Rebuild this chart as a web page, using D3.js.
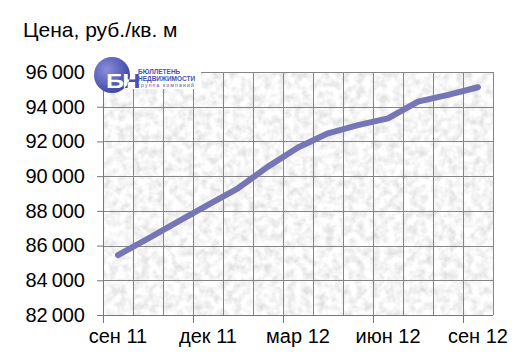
<!DOCTYPE html>
<html>
<head>
<meta charset="utf-8">
<script src="https://cdn.jsdelivr.net/npm/d3@7"></script>
<style>
  body { margin: 0; background: #fff; }
  text { font-family: "Liberation Sans", Arial, sans-serif; fill: #000; }
</style>
</head>
<body>
<div class="chart_price"></div>
<script>
// Monthly price per sq. m, Sep 2011 - Sep 2012
var months = ["сен 11", "окт 11", "ноя 11", "дек 11", "янв 12", "фев 12", "мар 12",
    "апр 12", "май 12", "июн 12", "июл 12", "авг 12", "сен 12"];
var prices = [85450, 86400, 87380, 88340, 89300, 90550, 91650, 92470, 92940, 93330, 94290, 94680, 95120];
var yTicks = [82000, 84000, 86000, 88000, 90000, 92000, 94000, 96000];
var xLabelMonths = ["сен 11", "дек 11", "мар 12", "июн 12", "сен 12"];

var svgWidth = 525;
var svgHeight = 363;
var margin = { top: 72, right: 32, bottom: 48, left: 103 };
var width = 390;
var height = 243;

var svg = d3
    .select(".chart_price")
    .append("svg")
    .attr("width", svgWidth)
    .attr("height", svgHeight);

// Marble-like texture for the plot background
var defs = svg.append("defs");
var filter = defs.append("filter")
    .attr("id", "marble")
    .attr("x", 0).attr("y", 0).attr("width", 1).attr("height", 1);
filter.append("feTurbulence")
    .attr("type", "fractalNoise")
    .attr("baseFrequency", "0.13")
    .attr("numOctaves", 3)
    .attr("seed", 7)
    .attr("result", "noise");
filter.append("feColorMatrix")
    .attr("in", "noise")
    .attr("type", "matrix")
    .attr("values", "0 0 0 0.5 0.67  0 0 0 0.5 0.67  0 0 0 0.5 0.67  0 0 0 0 1");

var chart = svg.append("g")
    .attr("transform", "translate(" + margin.left + "," + margin.top + ")");

// Scales
var xBand = d3.scaleBand().domain(months).range([0, width]);
var yLinearScale = d3.scaleLinear().domain([82000, 96000]).range([height, 0]);

chart.append("rect")
    .attr("width", width)
    .attr("height", height)
    .attr("filter", "url(#marble)");

// Gridlines
chart.append("g")
    .selectAll("line")
    .data(months.slice(1).concat(["end"]))
    .enter()
    .append("line")
    .attr("x1", function (d, i) { return (i + 1) * xBand.step() + 0.5; })
    .attr("x2", function (d, i) { return (i + 1) * xBand.step() + 0.5; })
    .attr("y1", 0)
    .attr("y2", height)
    .attr("stroke", "#858585")
    .attr("stroke-width", 1);

chart.append("g")
    .selectAll("line")
    .data(yTicks.slice(1))
    .enter()
    .append("line")
    .attr("x1", 0)
    .attr("x2", width)
    .attr("y1", function (d) { return Math.round(yLinearScale(d)) + 0.5; })
    .attr("y2", function (d) { return Math.round(yLinearScale(d)) + 0.5; })
    .attr("stroke", "#858585")
    .attr("stroke-width", 1);

// Left axis
var fmt = function (d) { return d3.format(",")(d).replace(",", "\u2009"); };
var leftAxis = d3.axisLeft(yLinearScale).tickValues(yTicks).tickSize(6).tickPadding(12).tickFormat(fmt);
var yAxis = chart.append("g").attr("class", "y-axis").call(leftAxis);
yAxis.select(".domain").attr("stroke", "#777");
yAxis.selectAll(".tick line").attr("stroke", "#777");
yAxis.selectAll(".tick text")
    .style("font-size", "20px")
    .style("font-family", "'Liberation Sans', Arial, sans-serif")
    .attr("fill", "#000");

// Bottom axis: ticks at quarter boundaries, labels at month centres
var bottom = chart.append("g").attr("transform", "translate(0," + height + ")");
bottom.append("line")
    .attr("x1", 0).attr("x2", width)
    .attr("y1", 0.5).attr("y2", 0.5)
    .attr("stroke", "#777");
bottom.selectAll(".xtick")
    .data(xLabelMonths)
    .enter()
    .append("line")
    .attr("class", "xtick")
    .attr("x1", function (d) { return Math.round(xBand(d)) + 0.5; })
    .attr("x2", function (d) { return Math.round(xBand(d)) + 0.5; })
    .attr("y1", 0)
    .attr("y2", 8)
    .attr("stroke", "#777");
bottom.selectAll(".xlabel")
    .data(xLabelMonths)
    .enter()
    .append("text")
    .attr("class", "xlabel")
    .attr("x", function (d) { return xBand(d) + xBand.bandwidth() / 2; })
    .attr("y", 28)
    .attr("text-anchor", "middle")
    .style("font-size", "20px")
    .text(function (d) { return d; });

// Price line
var line = d3.line()
    .x(function (d, i) { return xBand(months[i]) + xBand.bandwidth() / 2; })
    .y(function (d) { return yLinearScale(d); });

chart.append("path")
    .datum(prices)
    .attr("d", line)
    .attr("fill", "none")
    .attr("stroke", "#7676b6")
    .attr("stroke-width", 6)
    .attr("stroke-linecap", "round")
    .attr("stroke-linejoin", "round");

// Title
svg.append("text")
    .attr("x", 23)
    .attr("y", 37)
    .style("font-size", "21px")
    .text("Цена, руб./кв. м");

// Logo
var logo = svg.append("g");
var grad = defs.append("radialGradient").attr("id", "logoGrad")
    .attr("cx", "35%").attr("cy", "35%").attr("r", "70%");
grad.append("stop").attr("offset", "0%").attr("stop-color", "#8a8fd8");
grad.append("stop").attr("offset", "100%").attr("stop-color", "#3a44a8");
defs.append("clipPath").attr("id", "logoClip")
    .append("circle").attr("cx", 112).attr("cy", 75).attr("r", 18);

logo.append("rect")
    .attr("x", 107).attr("y", 68).attr("width", 94).attr("height", 21)
    .attr("fill", "#fff");
logo.append("circle")
    .attr("cx", 112).attr("cy", 75).attr("r", 18)
    .attr("fill", "url(#logoGrad)");
var bn = logo.append("g").attr("transform", "translate(106,88) scale(1.2,1)");
bn.append("text")
    .style("font-size", "21px").style("font-weight", "bold")
    .style("letter-spacing", "-1.5px")
    .style("fill", "#4a52b0")
    .text("БН");
logo.append("g").attr("clip-path", "url(#logoClip)")
    .append("g").attr("transform", "translate(106,88) scale(1.2,1)")
    .append("text")
    .style("font-size", "21px").style("font-weight", "bold")
    .style("letter-spacing", "-1.5px")
    .style("fill", "#fff")
    .text("БН");
logo.append("text")
    .attr("x", 138).attr("y", 74)
    .style("font-size", "6.5px").style("font-weight", "bold")
    .style("fill", "#4a52b0")
    .text("БЮЛЛЕТЕНЬ");
logo.append("text")
    .attr("x", 138).attr("y", 80.5)
    .style("font-size", "6.5px").style("font-weight", "bold")
    .style("fill", "#4a52b0")
    .text("НЕДВИЖИМОСТИ");
logo.append("text")
    .attr("x", 138).attr("y", 87)
    .style("font-size", "5px")
    .style("letter-spacing", "1.2px")
    .style("fill", "#4a52b0")
    .text("группа компаний");
</script>
</body>
</html>
